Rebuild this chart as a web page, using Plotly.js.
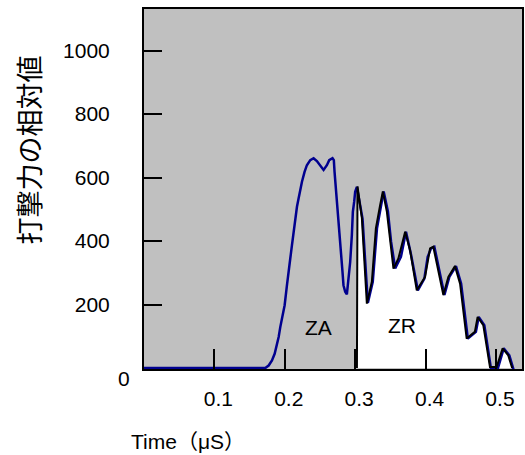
<!DOCTYPE html>
<html>
<head>
<meta charset="utf-8">
<script src="https://cdn.plot.ly/plotly-3.0.1.min.js"></script>
<style>html,body{margin:0;padding:0;background:#fff;}#chart{width:525px;height:455px;}</style>
</head>
<body>
<div id="chart"></div>
<script>
// Blue curve (whole impact, ZA + ZR)
const blueTime = [0, 0.1723, 0.1771, 0.1818, 0.1856, 0.1889, 0.1913, 0.1936, 0.196, 0.1998, 0.2031, 0.2054, 0.2078, 0.2102, 0.2125, 0.2149, 0.2173, 0.2196, 0.222, 0.2244, 0.2281, 0.2314, 0.2362, 0.2409, 0.2456, 0.2504, 0.2551, 0.2598, 0.2631, 0.2678, 0.2697, 0.2707, 0.2726, 0.2754, 0.2787, 0.2801, 0.282, 0.2834, 0.2858, 0.2882, 0.2896, 0.2929, 0.2953, 0.2967, 0.2986, 0.3, 0.3024,
  0.3105, 0.314, 0.318, 0.325, 0.331, 0.337, 0.3405, 0.3465, 0.351, 0.3568, 0.365, 0.3722, 0.3795, 0.389, 0.3983, 0.403, 0.4078, 0.4125, 0.4195, 0.4268, 0.4338, 0.4432, 0.4505, 0.46, 0.4715, 0.4755, 0.4835, 0.493, 0.5025, 0.511, 0.519, 0.525];
const blueForce = [0, 0, 8, 24, 45, 72, 98, 129, 156, 198, 261, 313, 345, 387, 429, 466, 508, 534, 566, 587, 618, 639, 655, 661, 652, 639, 624, 639, 655, 661, 655, 618, 566, 492, 419, 356, 303, 261, 240, 232, 261, 334, 419, 492, 524, 555, 571,
  470, 345, 205, 272, 440, 514, 556, 493, 398, 314, 350, 429, 356, 245, 282, 350, 377, 382, 308, 230, 287, 321, 266, 93, 114, 161, 135, -3, -3, 62, 40, -5];

// Black curve (ZR region)
const blackTime = [0.3025, 0.3025, 0.3033, 0.3095, 0.3128, 0.3166, 0.3237, 0.3294, 0.3355, 0.3393, 0.345, 0.3496, 0.3544, 0.3614, 0.371, 0.378, 0.3875, 0.3993, 0.4064, 0.411, 0.418, 0.4253, 0.4324, 0.4418, 0.449, 0.4584, 0.470, 0.474, 0.482, 0.4915, 0.501, 0.5095, 0.5175, 0.523];
const blackForce = [0, 565, 572, 472, 345, 203, 272, 440, 514, 556, 493, 398, 313, 345, 429, 371, 245, 287, 377, 382, 308, 230, 287, 321, 266, 93, 114, 161, 135, 3, 3, 62, 40, 0];

const xTickVals = [0.1, 0.2, 0.3, 0.4, 0.5];
const xTickText = ['0.1', '0.2', '0.3', '0.4', '0.5'];
const yTickVals = [200, 400, 600, 800, 1000];
const yTickText = ['200', '400', '600', '800', '1000'];

const yTitle = '打撃力の相対値';
const xTitle = 'Time（μS）';

const latin = 'Liberation Sans, Arial, sans-serif';
const cjk = 'Noto Sans CJK JP, sans-serif';

const traces = [
  {x: blackTime, y: blackForce, mode: 'lines', fill: 'tozeroy', fillcolor: '#ffffff',
   line: {width: 0, color: 'rgba(0,0,0,0)'}, hoverinfo: 'skip', showlegend: false},
  {x: blueTime, y: blueForce, mode: 'lines', line: {color: '#00008f', width: 2.5}, showlegend: false},
  {x: blackTime, y: blackForce, mode: 'lines', line: {color: '#000000', width: 2}, showlegend: false}
];

const layout = {
  width: 525, height: 455,
  margin: {l: 143.5, r: 3, t: 9, b: 86.4, pad: 0},
  paper_bgcolor: '#ffffff', plot_bgcolor: '#c0c0c0',
  showlegend: false,
  xaxis: {
    range: [0, 0.537], showgrid: false, zeroline: false,
    showline: true, mirror: true, linecolor: '#000', linewidth: 2,
    ticks: 'inside', ticklen: 20, tickwidth: 2, tickcolor: '#000',
    tickvals: xTickVals, ticktext: xTickText,
    tickfont: {family: latin, size: 21, color: '#000'},
    ticklabelstandoff: 10, ticklabelshift: 4
  },
  yaxis: {
    range: [-3, 1131], showgrid: false, zeroline: false,
    showline: true, mirror: true, linecolor: '#000', linewidth: 2,
    ticks: 'inside', ticklen: 18, tickwidth: 2, tickcolor: '#000',
    tickvals: yTickVals, ticktext: yTickText,
    tickfont: {family: latin, size: 21, color: '#000'},
    ticklabelstandoff: 28
  },
  annotations: [
    {xref: 'x', yref: 'y', x: 0.248, y: 129, text: 'ZA', showarrow: false,
     font: {family: latin, size: 21, color: '#000'}},
    {xref: 'x', yref: 'y', x: 0.3662, y: 135, text: 'ZR', showarrow: false,
     font: {family: latin, size: 21, color: '#000'}},
    {xref: 'paper', yref: 'paper', x: 0, y: 0, xshift: -20.5, yshift: -9.4, text: '0', showarrow: false,
     xanchor: 'center', yanchor: 'middle', font: {family: latin, size: 21, color: '#000'}},
    {xref: 'paper', yref: 'paper', x: 0, y: 0, xshift: -116, yshift: 218.6, text: yTitle, showarrow: false,
     textangle: -90, xanchor: 'center', yanchor: 'middle', font: {family: cjk, size: 27, color: '#000'}},
    {xref: 'paper', yref: 'paper', x: 0, y: 0, xshift: 44, yshift: -72.4, text: xTitle, showarrow: false,
     xanchor: 'center', yanchor: 'middle', font: {family: 'Liberation Sans, Noto Sans CJK JP, sans-serif', size: 21, color: '#000'}}
  ]
};

Plotly.newPlot('chart', traces, layout, {displayModeBar: false, staticPlot: true});
</script>
</body>
</html>
